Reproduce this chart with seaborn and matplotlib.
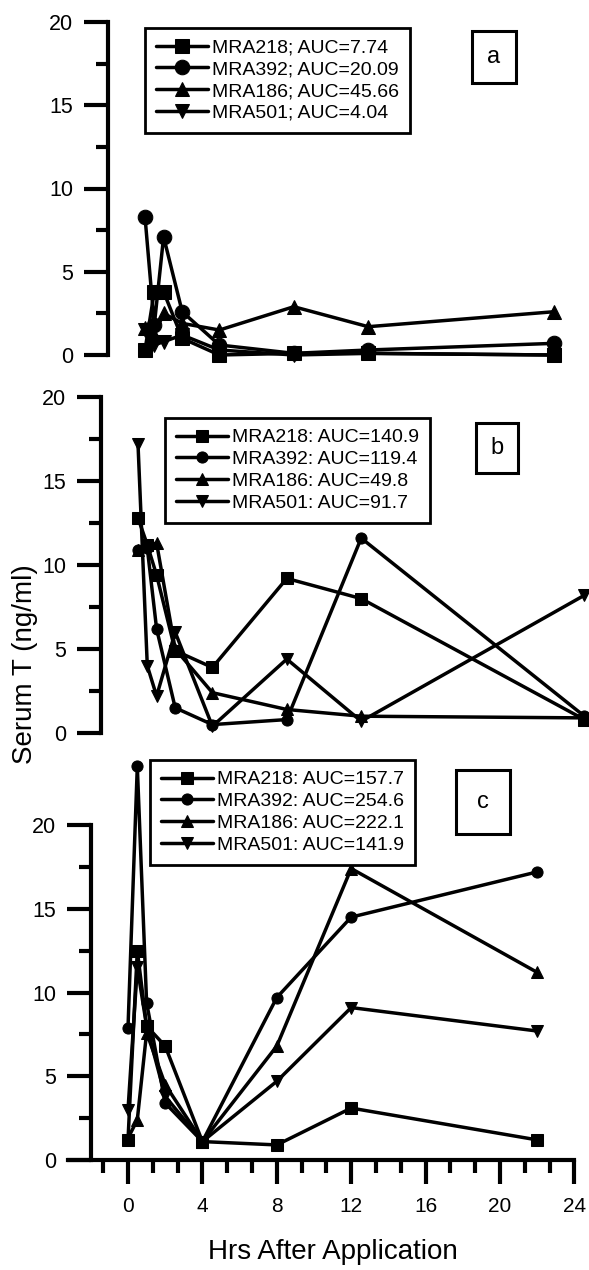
import pandas as pd
import seaborn as sns
import matplotlib.pyplot as plt
from matplotlib.ticker import FixedLocator

# sampling times (h)
hours_a = [0, 0.5, 1, 2, 4, 8, 12, 22]
hours_b = [0, 0.5, 1, 2, 4, 8, 12, 24]
hours_c = [0, 0.5, 1, 2, 4, 8, 12, 22]

subjects = ['MRA218', 'MRA392', 'MRA186', 'MRA501']
markers = ['s', 'o', '^', 'v']

# panel a - serum T (ng/ml)
a_218 = [0.3, 3.8, 3.8, 1.0, 0.0, 0.1, 0.1, 0.0]
a_392 = [8.3, 1.8, 7.1, 2.6, 0.6, 0.1, 0.3, 0.7]
a_186 = [1.6, 1.2, 2.5, 1.9, 1.5, 2.9, 1.7, 2.6]
a_501 = [1.5, 0.6, 0.8, 1.2, 0.3, 0.0, 0.1, 0.0]
auc_a = ['7.74', '20.09', '45.66', '4.04']

# panel b
b_218 = [12.8, 11.2, 9.4, 4.9, 3.9, 9.2, 8.0, 0.8]
b_392 = [10.9, 11.0, 6.2, 1.5, 0.5, 0.8, 11.6, 1.0]
b_186 = [10.9, 11.2, 11.3, 5.0, 2.4, 1.4, 1.0, 0.9]
b_501 = [17.2, 4.0, 2.2, 6.0, 0.4, 4.4, 0.7, 8.2]
auc_b = ['140.9', '119.4', '49.8', '91.7']

# panel c
c_218 = [1.2, 12.5, 8.0, 6.8, 1.1, 0.9, 3.1, 1.2]
c_392 = [7.9, 23.5, 9.4, 3.4, 1.1, 9.7, 14.5, 17.2]
c_186 = [1.3, 2.4, 7.6, 4.5, 1.1, 6.8, 17.4, 11.2]
c_501 = [3.0, 11.5, 8.0, 3.8, 1.1, 4.7, 9.1, 7.7]
auc_c = ['157.7', '254.6', '222.1', '141.9']

sns.set_style('ticks')
plt.rcParams['font.family'] = ['Liberation Sans', 'DejaVu Sans']
plt.rcParams.update({'text.color': 'black', 'axes.edgecolor': 'black',
                     'xtick.color': 'black', 'ytick.color': 'black',
                     'axes.labelcolor': 'black'})

W, H = 589, 1270
SX = 18.6  # px per hour
fig = plt.figure(figsize=(W / 100, H / 100), dpi=100)


def long_df(hours, series, aucs, sep):
    rows = []
    for name, vals, auc in zip(subjects, series, aucs):
        lab = f'{name}{sep} AUC={auc}'
        for h, v in zip(hours, vals):
            rows.append({'hrs': h, 'T': v, 'label': lab})
    return pd.DataFrame(rows)


panels = [
    # data, x0 px, y0 px, px/unit, top px, bottom px, legend (left, top), tag, tag center, tag pad, ms
    (long_df(hours_a, [a_218, a_392, a_186, a_501], auc_a, ';'), 145, 355, 16.65, 10, 372,
     (145, 28), 'a', (494, 57), 0.65, 10.5),
    (long_df(hours_b, [b_218, b_392, b_186, b_501], auc_b, ':'), 138, 733, 16.8, 385, 750,
     (165, 418), 'b', (497, 448), 0.6, 8),
    (long_df(hours_c, [c_218, c_392, c_186, c_501], auc_c, ':'), 128, 1160, 16.75, 752, 1160,
     (150, 760), 'c', (483, 802), 0.9, 8),
]

for df, x0, y0, sy, top, bottom, leg, tag, tagc, tpad, ms in panels:
    left, right = 40, 589
    ax = fig.add_axes([left / W, 1 - bottom / H, (right - left) / W, (bottom - top) / H])
    ax.patch.set_alpha(0)
    sns.lineplot(data=df, x='hrs', y='T', hue='label', style='label',
                 palette=['black'] * 4, markers=markers, dashes=False,
                 linewidth=2.5, markersize=ms, markeredgecolor='black',
                 legend=False, sort=False, ax=ax)
    for ln in ax.lines:
        ln.set_clip_on(False)
    ax.set_xlim((left - x0) / SX, (right - x0) / SX)
    ax.set_ylim((y0 - bottom) / sy, (y0 - top) / sy)

    ax.spines['top'].set_visible(False)
    ax.spines['right'].set_visible(False)
    ax.spines['left'].set_position(('data', -2))
    ax.spines['left'].set_bounds(0, 20)
    ax.spines['left'].set_linewidth(3)
    ax.yaxis.set_major_locator(FixedLocator([0, 5, 10, 15, 20]))
    ax.yaxis.set_minor_locator(FixedLocator([2.5, 7.5, 12.5, 17.5]))
    ax.tick_params(axis='y', which='major', length=17, width=3, labelsize=15.5, pad=8)
    ax.tick_params(axis='y', which='minor', length=9, width=3)
    ax.set_xlabel('')
    ax.set_ylabel('')

    if tag == 'c':
        ax.spines['bottom'].set_linewidth(3)
        ax.spines['bottom'].set_bounds((68 - x0) / SX, 24)
        ax.xaxis.set_major_locator(FixedLocator([0, 4, 8, 12, 16, 20, 24]))
        ax.xaxis.set_minor_locator(FixedLocator([k * 4 / 3 for k in range(-1, 18) if k % 3 != 0]))
        ax.tick_params(axis='x', which='major', length=17, width=3, labelsize=15, pad=10)
        ax.tick_params(axis='x', which='minor', length=9, width=3)
    else:
        ax.spines['bottom'].set_visible(False)
        ax.set_xticks([])

    labels = list(df['label'].unique())
    lg = ax.legend(ax.lines[:4], labels, loc='upper left',
                   bbox_to_anchor=(leg[0] / W, 1 - leg[1] / H), bbox_transform=fig.transFigure,
                   borderaxespad=0, fontsize=14, frameon=True, fancybox=False,
                   handlelength=2.7, handletextpad=0.2, labelspacing=0.22, borderpad=0.55)
    lg.get_frame().set_edgecolor('black')
    lg.get_frame().set_linewidth(2)
    lg.get_frame().set_alpha(1)

    fig.text(tagc[0] / W, 1 - tagc[1] / H, tag, ha='center', va='center', fontsize=17,
             bbox=dict(boxstyle=f'square,pad={tpad}', fc='white', ec='black', lw=2.2))

fig.text(25 / W, 1 - 664 / H, 'Serum T (ng/ml)', rotation=90, ha='center', va='center', fontsize=20)
fig.text(333 / W, 1 - 1252 / H, 'Hrs After Application', ha='center', va='center', fontsize=20)

fig.savefig('out.png', dpi=100)
